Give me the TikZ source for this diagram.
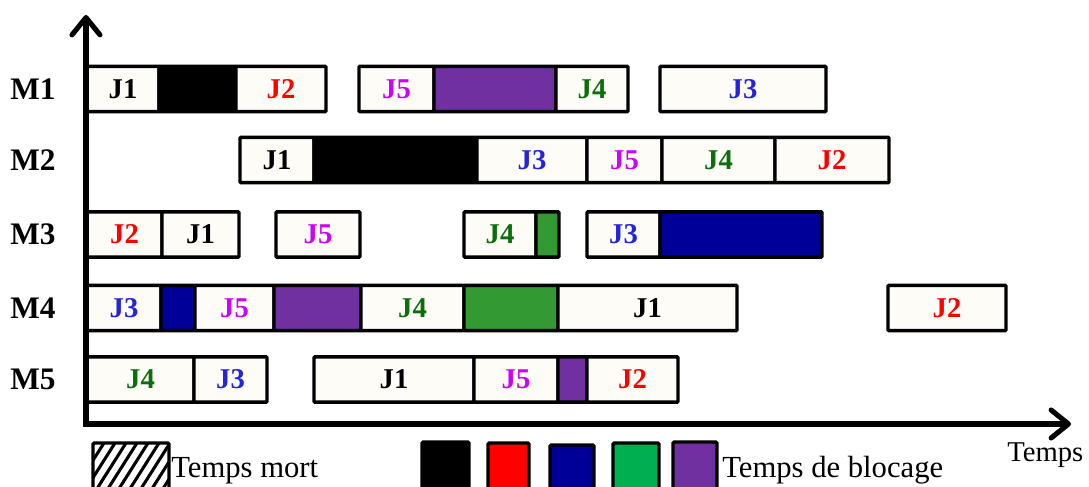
\documentclass[tikz,border=0pt]{standalone}
\usepackage{fontspec}
\setmainfont{Liberation Serif}
\usetikzlibrary{arrows.meta}
\definecolor{jred}{HTML}{FF0000}
\definecolor{jblue}{HTML}{2424DC}
\definecolor{jgreen}{HTML}{0B6E0B}
\definecolor{jmag}{HTML}{CC00FF}
\definecolor{bpurple}{HTML}{7030A0}
\definecolor{bnavy}{HTML}{000099}
\definecolor{bgreen}{HTML}{339933}
\definecolor{lgreen}{HTML}{00B050}
\definecolor{offwhite}{HTML}{FDFCF7}
\tikzset{
 seg/.style={draw=black, line width=2.6pt, rounded corners=0.8pt, inner sep=0pt, outer sep=0pt,
   minimum height=34pt, font=\fontsize{21.5}{24}\selectfont\bfseries},
 jobbox/.style={seg, fill=offwhite},
 blockbox/.style={seg},
 mlabel/.style={font=\fontsize{23.5}{26}\selectfont\bfseries, inner sep=0pt},
 axis/.style={line width=3.8pt, line join=miter,
   {Straight Barb[length=13pt, width=21pt, round]}-{Straight Barb[length=13pt, width=21pt, round]}},
 legbox/.style={draw=black, line width=2.6pt, rounded corners=1pt},
 legtext/.style={font=\fontsize{23}{26}\selectfont, inner sep=0pt, anchor=base west},
}
\newcommand{\jb}[6]{\node[jobbox, minimum width={(#3-#2)*0.75pt}, text=#5] (#1) at ({(#2+#3)/2},#6) {#4};}
\newcommand{\bb}[5]{\node[blockbox, fill=#4, minimum width={(#3-#2)*0.75pt}] (#1) at ({(#2+#3)/2},#5) {};}
\begin{document}
\begin{tikzpicture}[x=0.75pt, y=-0.75pt]
\useasboundingbox (0,0) rectangle (1089,486);
\clip (0,0) rectangle (1089,486);
% M1
\jb{m1a}{87}{159}{J1}{black}{89}
\bb{m1b}{159}{236}{black}{89}
\jb{m1c}{236}{326}{J2}{jred}{89}
\jb{m1d}{359}{434}{J5}{jmag}{89}
\bb{m1e}{434}{556}{bpurple}{89}
\jb{m1f}{556}{628}{J4}{jgreen}{89}
\jb{m1g}{660}{826}{J3}{jblue}{89}
% M2
\jb{m2a}{240}{314}{J1}{black}{160}
\bb{m2b}{314}{477}{black}{160}
\jb{m2c}{477}{587}{J3}{jblue}{160}
\jb{m2d}{587}{662}{J5}{jmag}{160}
\jb{m2e}{662}{775}{J4}{jgreen}{160}
\jb{m2f}{775}{889}{J2}{jred}{160}
% M3
\jb{m3a}{87}{162}{J2}{jred}{234.5}
\jb{m3b}{162}{239}{J1}{black}{234.5}
\jb{m3c}{276}{360}{J5}{jmag}{234.5}
\jb{m3d}{464}{536}{J4}{jgreen}{234.5}
\bb{m3e}{536}{559}{bgreen}{234.5}
\jb{m3f}{587}{660}{J3}{jblue}{234.5}
\bb{m3g}{660}{822}{bnavy}{234.5}
% M4
\jb{m4a}{87}{161}{J3}{jblue}{308}
\bb{m4b}{161}{195}{bnavy}{308}
\jb{m4c}{195}{274}{J5}{jmag}{308}
\bb{m4d}{274}{361}{bpurple}{308}
\jb{m4e}{361}{464}{J4}{jgreen}{308}
\bb{m4f}{464}{558}{bgreen}{308}
\jb{m4g}{558}{737}{J1}{black}{308}
\jb{m4h}{888}{1006}{J2}{jred}{308}
% M5
\jb{m5a}{87}{194}{J4}{jgreen}{379.5}
\jb{m5b}{194}{267}{J3}{jblue}{379.5}
\jb{m5c}{314}{474}{J1}{black}{379.5}
\jb{m5d}{474}{558}{J5}{jmag}{379.5}
\bb{m5e}{558}{587}{bpurple}{379.5}
\jb{m5f}{587}{678}{J2}{jred}{379.5}
% machine labels
\node[mlabel] (lm1) at (33,89) {M1};
\node[mlabel] (lm2) at (33,160) {M2};
\node[mlabel] (lm3) at (33,234.5) {M3};
\node[mlabel] (lm4) at (33,308) {M4};
\node[mlabel] (lm5) at (33,379.5) {M5};
% axes
\coordinate (o) at (86,424);
\coordinate (yt) at (86,15);
\coordinate (xt) at (1071,424);
\draw[axis] (yt) -- (o) -- (xt);
\node[font=\fontsize{21.5}{24}\selectfont, inner sep=0pt, anchor=base west] (temps) at (1007,461) {Temps};
% legend
\begin{scope}
\clip (93,443) rectangle (169,495);
\foreach \k in {-5,...,9} \draw[line width=2.3pt] ({93+\k*11},495) -- ++(33,-52);
\end{scope}
\draw[legbox] (93,443) rectangle (169,495);
\node[legtext] (tmort) at (171,477) {Temps mort};
\draw[legbox, fill=black] (422,442) rectangle (469,495);
\draw[legbox, fill=jred] (488,443) rectangle (529,495);
\draw[legbox, fill=bnavy] (550,445) rectangle (594,495);
\draw[legbox, fill=lgreen] (613,443) rectangle (659,495);
\draw[legbox, fill=bpurple] (673,442) rectangle (717,495);
\node[legtext] (tblocage) at (722,477) {Temps de blocage};
\end{tikzpicture}
\end{document}
